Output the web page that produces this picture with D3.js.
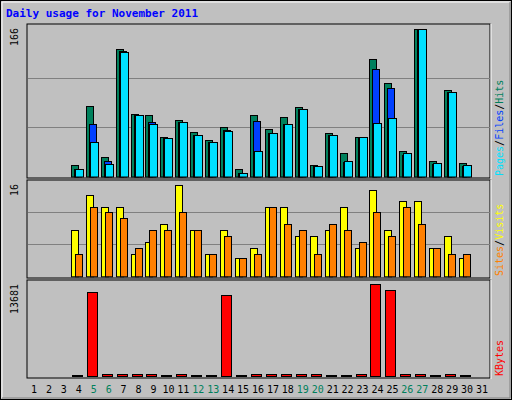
<!DOCTYPE html><html><head><meta charset="utf-8">
<script src="https://cdn.jsdelivr.net/npm/d3@7"></script>
<style>body{margin:0;background:#fff}</style></head><body>
<script>
const days = d3.range(1,32);
const weekend = [5,6,12,13,19,20,26,27];
const hits   = [0,0,0,13,79,22,143,70,69,45,64,50,41,56,8,69,53,67,78,13,49,26,44,132,105,29,166,18,97,15,0];
const files  = [0,0,0,9,59,18,141,69,61,43,61,47,39,52,4,62,49,59,76,12,47,16,44,121,100,24,166,14,95,12,0];
const pages  = [0,0,0,9,39,14,140,69,59,43,61,47,39,51,4,29,49,59,76,12,47,18,44,60,66,26,166,15,95,13,0];
const sites  = [0,0,0,7.7,13.5,11.5,11.5,3.8,5.8,8.7,15.3,7.7,3.8,7.7,3.0,4.8,11.5,11.5,6.8,6.8,7.7,11.5,4.8,14.4,7.7,12.5,12.5,4.8,6.8,3.0,0];
const visits = [0,0,0,3.8,11.5,10.7,9.7,4.8,7.7,7.7,10.7,7.7,3.8,6.8,3.0,3.8,11.5,8.7,7.7,3.8,8.7,7.7,5.8,10.7,6.8,11.5,8.7,4.8,3.8,3.8,0];
const kbytes = [0,0,0,150,12490,250,300,250,250,200,300,200,200,12045,150,350,250,300,300,250,200,200,250,13681,12789,250,350,200,350,200,0];

const W=512,H=400;
const svg=d3.select("body").append("svg").attr("width",W).attr("height",H);
svg.append("rect").attr("width",W).attr("height",H).attr("fill","#c0c0c0");
svg.append("rect").attr("x",0.5).attr("y",0.5).attr("width",W-1).attr("height",H-1).attr("fill","none").attr("stroke","#000");
svg.append("path").attr("d","M2,398V2H510").attr("stroke","#fff").attr("fill","none");
svg.append("path").attr("d","M2,398H510V2").attr("stroke","#808080").attr("fill","none");
svg.append("text").attr("x",6).attr("y",17).text("Daily usage for November 2011")
  .attr("font-family","DejaVu Sans Mono").attr("font-weight","bold").attr("font-size",11).attr("fill","#0000ff");

const L=27,R=490;
const x=d3.scaleLinear().domain([1,31]).range([34,482]);
const mono="DejaVu Sans Mono";

function panel(y0,y1,max,label){
  svg.append("rect").attr("x",L).attr("y",y0).attr("width",R-L).attr("height",y1-y0).attr("fill","#c0c0c0").attr("stroke","#000");
  svg.append("line").attr("x1",R+1).attr("x2",R+1).attr("y1",y0).attr("y2",y1+1).attr("stroke","#fff");
  svg.append("text").attr("transform",`translate(18,${y0+4}) rotate(-90)`).attr("text-anchor","end")
   .attr("font-family",mono).attr("font-size",10).text(label);
}
function grid(y,top,bottom){
  [1/3,2/3].forEach(f=>{const yy=Math.round(bottom-(bottom-top)*f)+0.5;
    svg.append("line").attr("x1",L+1).attr("x2",R).attr("y1",yy).attr("y2",yy).attr("stroke","#808080");});
}
function bars(data,y,dx,w,color){
  svg.append("g").selectAll("rect").data(days.filter((d,i)=>data[i]>0)).join("rect")
   .attr("x",d=>Math.round(x(d))+dx+0.5).attr("width",w)
   .attr("y",d=>Math.round(y(data[d-1]))+0.5).attr("height",d=>y(0)-Math.round(y(data[d-1])))
   .attr("fill",color).attr("stroke","#000");
}
// top
panel(24,178,166,"166");
const y1=d3.scaleLinear().domain([0,166]).range([176.5,29]);
grid(y1,29,176.5);
bars(hits,y1,-8,7,"#00805c");
bars(files,y1,-5,7,"#0040ff");
bars(pages,y1,-4,8,"#00e0ff");
// middle
panel(180,278,16,"16");
const y2=d3.scaleLinear().domain([0,16]).range([276.3,180.3]);
grid(y2,180.3,276.3);
bars(sites,y2,-8,7,"#ffff00");
bars(visits,y2,-4,7,"#ff8000");
// bottom
panel(280,378,13681,"13681");
const y3=d3.scaleLinear().domain([0,13681]).range([376,284]);
bars(kbytes,y3,-7,10,"#ff0000");

svg.append("g").selectAll("text").data(days).join("text")
 .attr("x",d=>x(d)).attr("y",393).attr("text-anchor","middle").attr("font-family",mono).attr("font-size",10)
 .attr("fill",d=>weekend.includes(d)?"#00805c":"#000").text(d=>d);

function vlabel(yBottom,parts){
  const t=svg.append("text").attr("transform",`translate(503,${yBottom}) rotate(-90)`)
   .attr("font-family",mono).attr("font-size",10);
  parts.forEach(([s,c])=>t.append("tspan").attr("fill",c).text(s));
}
vlabel(176,[["Pages","#00e0ff"],["/","#000"],["Files","#0040ff"],["/","#000"],["Hits","#00805c"]]);
vlabel(276,[["Sites","#ff8000"],["/","#000"],["Visits","#ffff00"]]);
vlabel(376,[["KBytes","#ff0000"]]);
</script></body></html>
